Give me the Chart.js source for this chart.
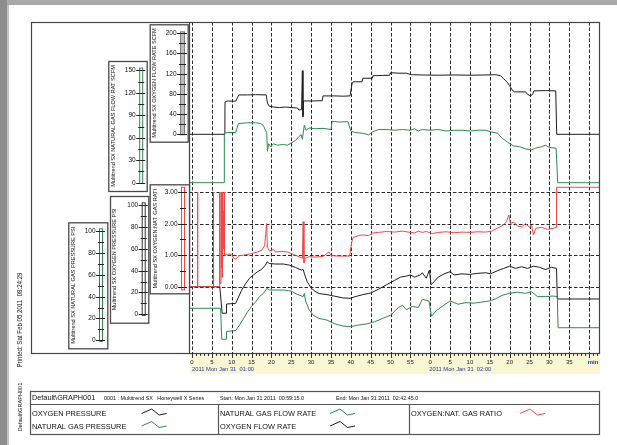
<!DOCTYPE html>
<html><head><meta charset="utf-8">
<script src="https://cdn.jsdelivr.net/npm/chart.js@4.4.1/dist/chart.umd.min.js"></script>
<style>html,body{margin:0;padding:0;background:#fff;overflow:hidden}#wrap{position:relative;width:617px;height:445px}</style>
</head><body><div id="wrap"><canvas id="c" width="617" height="445"></canvas></div>
<script>
// ---------- DATA (minutes after 01:00, value) ----------
const o2Flow = [[-0.75,0],[8.28,0],[8.32,64],[9,66],[10.5,65.5],[11.1,66],[11.4,72],[11.8,78],[14,78],[16,78.5],[18.7,78],[19.0,62],[19.4,56],[20.5,54],[22,53],[23.5,54],[25,53],[26.6,52],[26.9,48],[27.6,49],[27.8,126],[27.95,35],[28.1,66],[30,66],[32.8,66.5],[33.0,76],[36,76],[38,75.5],[39.8,76],[40.3,100],[40.6,104],[42.8,104],[43.0,111],[45.4,111],[45.6,116],[48,116.5],[49.8,117],[50.0,122],[52,121],[54,121],[55.2,118],[58,117.5],[62,117],[66,117.5],[70,117],[74,117.5],[76.5,118],[77.7,116],[78.5,110],[79.3,104],[80,96],[80.6,88],[81.2,84],[84,84],[84.4,80],[85.2,76],[85.8,79],[86.1,86],[89,86.5],[91.6,86],[91.85,0],[102.75,0]];
const ngFlow = [[-0.75,0],[8.1,0],[8.15,66],[9,67],[11,67],[11.3,72],[11.7,79],[14,80],[16,80],[17.3,79],[18,76],[18.5,70],[18.8,67],[19.0,42],[19.3,52],[19.8,48],[20.5,52],[21.5,50],[23,51],[24,50],[25,53],[26,56],[27,62],[27.5,64],[27.8,58],[28.3,77],[28.7,70],[29.5,73],[31,72],[33,72.5],[35,71],[35.3,82],[37,81],[39.3,81.5],[39.6,76],[40,69],[41,67],[43,66],[44.5,64],[45.5,68],[47,71],[49,71],[51,70],[53,71],[55,70],[56,72],[57,69],[58,71],[60,70],[62,71],[64,69],[66,70],[68,70],[70,69],[72,70],[74,70],[75.2,68],[77,66],[78,60],[79,56],[80,52],[81,49],[82.5,48],[84,45],[85.5,44],[86.5,46],[88,48],[89,50],[90,47],[91.7,46],[92.1,0],[102.75,0]];
const ratio = [[-0.75,0],[1.3,0],[1.35,3.0],[1.42,0],[1.45,2.3],[1.5,0],[5.3,0],[5.35,3.0],[5.42,0],[5.45,2.3],[5.5,0],[6.9,0],[6.95,3.0],[7.02,0.1],[7.3,0.1],[7.35,3.0],[7.42,0.6],[7.6,3.0],[7.65,0.3],[7.9,2.4],[7.95,1.2],[8.1,3.0],[8.2,1.0],[8.4,1.03],[10,1.03],[10.5,0.9],[11,0.87],[11.8,0.98],[13,1.0],[15,1.05],[16.5,1.1],[17.5,1.15],[18.3,1.3],[18.8,2.0],[19.0,1.25],[19.5,1.13],[20.5,1.18],[21,1.1],[22.5,1.12],[24,1.1],[25,1.05],[26,1.0],[27,0.95],[27.8,0.9],[28.0,2.06],[28.2,0.75],[28.5,0.9],[29.5,0.95],[31,0.94],[33,0.96],[34.5,1.1],[35,0.98],[37,0.97],[39.7,0.97],[40.2,1.4],[40.6,1.56],[42,1.62],[43,1.64],[44.5,1.62],[45.5,1.7],[47,1.72],[49,1.75],[51,1.73],[53,1.76],[55,1.72],[56,1.7],[57,1.76],[58,1.72],[59,1.75],[60.5,1.68],[62,1.72],[64,1.74],[66,1.71],[68,1.73],[70,1.72],[72,1.74],[74,1.73],[75.5,1.76],[77,1.86],[78.5,1.96],[79.2,2.06],[79.8,2.27],[80.2,2.0],[81,2.05],[82,1.92],[83,1.9],[84,2.0],[85,1.88],[85.5,1.95],[86,1.64],[86.6,1.85],[88,1.88],[89.5,1.82],[91,1.85],[91.7,1.88],[91.8,3.15],[102.75,3.15]];
const o2Pres = [[-0.75,25.3],[7.0,25.3],[7.6,1],[8.6,1],[8.7,9.4],[11,10],[11.5,14],[12.5,22],[13.5,28],[14.5,33],[15.5,36],[16.5,39],[17.5,41],[18.5,45],[18.9,48],[19.5,46.5],[21,46],[23,46],[24.5,45],[26,43],[27.5,40.5],[28,41],[28.4,36],[29,30],[30,24],[31,21],[32,19],[34,18],[36,16.5],[38,15],[39.8,14.6],[41,16],[43,18],[45,19.5],[47,23],[49,27],[51,31],[52.5,34],[54,35],[55,36],[56,34],[57.5,36],[58,38],[59,33],[59.8,40.5],[60.2,27],[61,30],[62,34],[63.5,37],[65,39],[66,36],[68,37],[70,36.5],[72,37.5],[74,38],[75.2,37],[77,40],[78.5,42],[80,44],[81.5,42],[83,43.5],[84.5,42],[86,44],[87.5,43],[89,41],[90.5,43],[91.8,42],[92,14],[102.75,14]];
const ngPres = [[-0.75,29.3],[7.2,29.3],[7.5,1],[8.6,1],[8.7,8],[11,9],[12,14],[13,20],[14,26],[15,31],[16,35],[17,40],[18,43],[18.9,47.6],[19.5,46],[21,46],[23,46],[25,45],[26.5,42],[28,40],[28.3,43],[28.6,36],[29.5,28],[30.5,23],[32,20],[34,18.5],[36,15],[38,13],[40,12.5],[42,14],[44,15],[46,17],[48,20],[50,23],[52,30],[53,32],[54,28],[55.5,31],[57,30],[58,37.5],[59.7,36],[60.3,22],[61.5,27],[63,31],[65,36],[67,33],[69,34.5],[71,34],[73,35],[75,36],[76.5,38],[78,41],[80,43],[82,44],[84,43],[85.5,44.5],[87,40],[89,40],[91,40.5],[92,40],[92.2,11.5],[102.75,11.5]];

const o2FlowTicks = [0,40,80,120,160,200];
const ngFlowTicks = [0,30,60,90,120,150];
const ratioTicks = [0,1,2,3];
const o2PresTicks = [0,20,40,60,80,100];
const ngPresTicks = [0,20,40,60,80,100];
const xTickMinutes = [0,5,10,15,20,25,30,35,40,45,50,55,60,65,70,75,80,85,90,95];
const xTickLabels = ['0','5','10','15','20','25','30','35','40','45','50','55','0','5','10','15','20','25','30','35'];
const dateLabels = ['2011 Mon Jan 31  01:00','2011 Mon Jan 31  02:00'];
const seriesNames = ['OXYGEN PRESSURE','NATURAL GAS PRESSURE','NATURAL GAS FLOW RATE','OXYGEN FLOW RATE','OXYGEN:NAT. GAS RATIO'];
const axisTitles = ['Multitrend SX OXYGEN FLOW RATE SCFM','Multitrend SX NATURAL GAS FLOW RAT SCFM','Multitrend SX OXYGEN:NAT. GAS RATI','Multitrend SX OXYGEN PRESSURE PSI','Multitrend SX NATURAL GAS PRESSURE PSI'];

// ---------- LAYOUT ----------
const AREA = {left:189, right:600, top:22, bottom:353};
function rangeFor(v0,p0,v1,p1){const k=(p0-p1)/(v1-v0);return {min:v0-(AREA.bottom-p0)/k,max:v1+(p1-AREA.top)/k};}
const rO2F=rangeFor(0,134.3,200,33.3), rNGF=rangeFor(0,182.7,150,70.3), rR=rangeFor(0,286.7,3,192),
      rO2P=rangeFor(0,314.3,100,205), rNGP=rangeFor(0,340.3,100,231);
const BLACK='#1e1e1e', GREEN='#2f8a50', RED='#f04848';
const FONT='"Liberation Sans", Arial, sans-serif';

const boxes = [
 {id:'yO2F', rect:[149.7,24.3,187.7,141.7], title:axisTitles[0], tx:154.5, bx:180, bw:4, fill:'#bdbdbd', stroke:'#808080', ticks:o2FlowTicks, minor:20, dec:0, from:-1, to:203},
 {id:'yNGF', rect:[108.3,61,146.7,191], title:axisTitles[1], tx:113.3, bx:139.2, bw:3, fill:'#fff', stroke:GREEN, ticks:ngFlowTicks, minor:15, dec:0, from:-1, to:153},
 {id:'yR', rect:[149.7,184.3,189,293.3], title:axisTitles[2], tx:155, bx:181, bw:3, fill:'#fff', stroke:RED, ticks:ratioTicks, minor:0.5, dec:2, from:-0.1, to:3.15},
 {id:'yO2P', rect:[110,196,148.3,322.7], title:axisTitles[3], tx:114.5, bx:141.7, bw:3, fill:'#fff', stroke:'#333', ticks:o2PresTicks, minor:10, dec:0, from:-1, to:102},
 {id:'yNGP', rect:[68.3,222.3,107.3,348.3], title:axisTitles[4], tx:73, bx:99, bw:3, fill:'#fff', stroke:GREEN, ticks:ngPresTicks, minor:10, dec:0, from:-1, to:102}
];

function vtext(c,txt,x,y,size,maxW,color){c.save();c.translate(x,y);c.rotate(-Math.PI/2);c.font=size+'px '+FONT;c.fillStyle=color||'#111';c.textAlign='center';c.textBaseline='middle';c.fillText(txt,0,0,maxW);c.restore();}
function icon(c,x,y,color){c.save();c.strokeStyle=color;c.lineWidth=1;c.beginPath();c.moveTo(x,y);c.lineTo(x+10,y-4.5);c.lineTo(x+17.5,y+1.5);c.lineTo(x+25,y);c.stroke();c.restore();}

const deco = {
 id:'deco',
 beforeDraw(chart){
  const c=chart.ctx; c.save();
  c.fillStyle='#fff'; c.fillRect(0,0,617,445);
  c.fillStyle='#a9a9a9'; c.fillRect(0,0,617,5);
  c.fillStyle='#8d8d8d'; c.fillRect(0,0,7,445);
  c.fillStyle='#c4c4c4'; c.fillRect(7,5,2,440);
  c.fillStyle='#f9f7d3'; c.fillRect(190,353,410,21);
  c.restore();
 },
 beforeDatasetsDraw(chart){
  const c=chart.ctx, xs=chart.scales.x, yr=chart.scales.yR; c.save();
  c.setLineDash([3.5,2]); c.strokeStyle='#2a2a2a'; c.lineWidth=1;
  for(let t=0;t<=100;t+=5){const x=Math.round(xs.getPixelForValue(t))+0.5;c.beginPath();c.moveTo(x,AREA.top);c.lineTo(x,AREA.bottom);c.stroke();}
  for(const v of ratioTicks){const y=Math.round(yr.getPixelForValue(v))+0.5;c.beginPath();c.moveTo(AREA.left,y);c.lineTo(AREA.right,y);c.stroke();}
  c.restore();
 },
 afterDraw(chart){
  const c=chart.ctx, xs=chart.scales.x; c.save();
  // frame
  c.strokeStyle='#444'; c.lineWidth=1.2;
  c.strokeRect(31.5,22.5,568,331);
  c.beginPath(); c.moveTo(189.5,22); c.lineTo(189.5,353); c.stroke();
  // axis boxes
  for(const b of boxes){
   const s=chart.scales[b.id];
   c.strokeStyle='#4a4a4a'; c.lineWidth=1.3;
   c.fillStyle='#fff'; c.fillRect(b.rect[0],b.rect[1],b.rect[2]-b.rect[0],b.rect[3]-b.rect[1]);
   c.strokeRect(b.rect[0]+0.5,b.rect[1]+0.5,b.rect[2]-b.rect[0],b.rect[3]-b.rect[1]);
   vtext(c,b.title,b.tx,(b.rect[1]+b.rect[3])/2,5.6,b.rect[3]-b.rect[1]-8,'#111');
   const yTop=s.getPixelForValue(b.to), yBot=s.getPixelForValue(b.from);
   c.fillStyle=b.fill; c.fillRect(b.bx,yTop,b.bw,yBot-yTop);
   c.strokeStyle=b.stroke; c.lineWidth=1; c.strokeRect(b.bx+0.5,yTop,b.bw,yBot-yTop);
   c.strokeStyle='#222'; c.lineWidth=1;
   const maxT=b.ticks[b.ticks.length-1];
   for(let v=0; v<=maxT+1e-9; v+=b.minor){
    const y=Math.round(s.getPixelForValue(v))+0.5; c.beginPath(); c.moveTo(b.bx-1,y); c.lineTo(b.bx+b.bw+2,y); c.stroke();
   }
   c.font='6.5px '+FONT; c.fillStyle='#111'; c.textAlign='right'; c.textBaseline='middle';
   for(const v of b.ticks){
    const y=Math.round(s.getPixelForValue(v))+0.5;
    c.beginPath(); c.moveTo(b.bx-3,y); c.lineTo(b.bx+b.bw+3,y); c.stroke();
    c.fillText(v.toFixed(b.dec), b.bx-3.5, y);
   }
  }
  // x ruler
  c.strokeStyle='#333'; c.lineWidth=1;
  for(let t=0;t<=102;t++){const x=Math.round(xs.getPixelForValue(t))+0.5;c.beginPath();c.moveTo(x,353);c.lineTo(x,t%5===0?358:356);c.stroke();}
  c.font='6px '+FONT; c.fillStyle='#222'; c.textAlign='center'; c.textBaseline='middle';
  xTickMinutes.forEach((t,i)=>c.fillText(xTickLabels[i], xs.getPixelForValue(t), 362));
  c.fillStyle='#2a35a8'; c.font='bold 6px '+FONT; c.fillText('min',593,362);
  c.font='5.8px '+FONT; c.textAlign='left';
  c.fillText(dateLabels[0], xs.getPixelForValue(0), 369.5, 66);
  c.fillText(dateLabels[1], xs.getPixelForValue(60)-1, 369.5, 66);
  // side texts
  vtext(c,'Printed: Sat Feb 05 2011  08:24:29',20,320,6.3,95,'#111');
  vtext(c,'Default\\GRAPH001',20,407,5.6,52,'#111');
  // legend box
  c.strokeStyle='#555'; c.lineWidth=1.2;
  c.strokeRect(30.5,391.5,569,43);
  c.beginPath(); c.moveTo(30.5,404.5); c.lineTo(599.5,404.5);
  c.moveTo(218.5,404.5); c.lineTo(218.5,434.5); c.moveTo(409.5,404.5); c.lineTo(409.5,434.5); c.stroke();
  c.fillStyle='#111'; c.textAlign='left'; c.textBaseline='middle';
  c.font='7.3px '+FONT; c.fillText('Default\\GRAPH001',32,398,64);
  c.font='5.4px '+FONT;
  c.fillText('0001 : Multitrend SX   Honeywell X Series',104,398.5,113);
  c.fillText('Start: Mon Jan 31 2011  00:59:15.0',220,398.5,99);
  c.fillText('End: Mon Jan 31 2011  02:42:45.0',336,398.5,92);
  c.font='7.4px '+FONT;
  c.fillText(seriesNames[0],32,414,76);
  c.fillText(seriesNames[1],32,426.5,96);
  c.fillText(seriesNames[2],220,414,105);
  c.fillText(seriesNames[3],220,426.5,84);
  c.fillText(seriesNames[4],411,414,93);
  icon(c,141.7,413.5,BLACK); icon(c,141.7,426,GREEN);
  icon(c,330,413.5,GREEN); icon(c,330,426,BLACK);
  icon(c,520,413.5,RED);
  c.restore();
 }
};

const mk=a=>a.map(p=>({x:p[0],y:p[1]}));
const ds=(label,data,axis,color)=>({label,data:mk(data),yAxisID:axis,borderColor:color,borderWidth:1,pointRadius:0,tension:0,fill:false});
const hidden=r=>({type:'linear',display:false,min:r.min,max:r.max});

new Chart(document.getElementById('c'),{
 type:'line',
 data:{datasets:[
  ds(seriesNames[4],ratio,'yR',RED),
  ds(seriesNames[1],ngPres,'yNGP',GREEN),
  ds(seriesNames[0],o2Pres,'yO2P',BLACK),
  ds(seriesNames[2],ngFlow,'yNGF',GREEN),
  ds(seriesNames[3],o2Flow,'yO2F',BLACK)
 ]},
 options:{
  responsive:false, animation:false, events:[],
  layout:{padding:{left:AREA.left,right:617-AREA.right,top:AREA.top,bottom:445-AREA.bottom}},
  plugins:{legend:{display:false},tooltip:{enabled:false},title:{display:false}},
  scales:{
   x:{type:'linear',display:false,min:-0.75,max:102.75},
   yO2F:hidden(rO2F), yNGF:hidden(rNGF), yR:hidden(rR), yO2P:hidden(rO2P), yNGP:hidden(rNGP)
  }
 },
 plugins:[deco]
});
</script></body></html>
